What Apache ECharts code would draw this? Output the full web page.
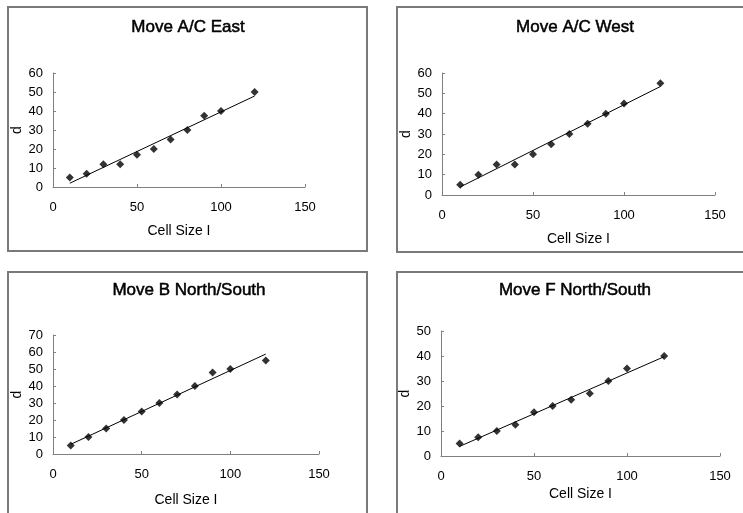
<!DOCTYPE html>
<html>
<head>
<meta charset="utf-8">
<script src="https://cdn.jsdelivr.net/npm/echarts@6/dist/echarts.min.js"></script>
<style>
html,body{margin:0;padding:0;background:#fff;}
#chart{width:743px;height:513px;}
</style>
</head>
<body>
<div id="chart"></div>
<script>
// ---- data ----
var titles = ['Move A/C East', 'Move A/C West', 'Move B North/South', 'Move F North/South'];
var cellSize = [10, 20, 30, 40, 50, 60, 70, 80, 90, 100, 120];
var dEast  = [5, 7, 12, 12, 17, 20, 25, 30, 37.5, 40, 50];
var dWest  = [5, 10, 15, 15, 20, 25, 30, 35, 40, 45, 55];
var dBNS   = [5, 10, 15, 20, 25, 30, 35, 40, 48, 50, 55];
var dFNS   = [5, 7.5, 10, 12.5, 17.5, 20, 22.5, 25, 30, 35, 40];
var yMax   = [60, 60, 70, 50];
var xTitle = 'Cell Size I';
var yTitle = 'd';

var seriesVals = [dEast, dWest, dBNS, dFNS];

// ---- layout (styles only) ----
var grids = [
  {left: 53,  top: 73,  width: 252, height: 114},
  {left: 442, top: 73,  width: 273, height: 122},
  {left: 53,  top: 335, width: 266, height: 119},
  {left: 441, top: 331, width: 279, height: 125}
];
var titlePos = [[188, 19], [575, 19], [189, 282], [575, 282]];
var xNameGap = [37, 37, 39, 31];
var yNameGap = [27, 28, 26, 24];
var frames = [[8, 7, 359, 244], [397, 7, 350, 245], [8, 272, 359, 250], [397, 272, 350, 250]];

var FONT = "'Liberation Sans', Arial, sans-serif";

function fit(xs, ys) {
  var n = xs.length, sx = 0, sy = 0, sxx = 0, sxy = 0;
  for (var i = 0; i < n; i++) { sx += xs[i]; sy += ys[i]; sxx += xs[i]*xs[i]; sxy += xs[i]*ys[i]; }
  var b = (n*sxy - sx*sy) / (n*sxx - sx*sx);
  var a = (sy - b*sx) / n;
  var x0 = Math.min.apply(null, xs), x1 = Math.max.apply(null, xs);
  return [[x0, a + b*x0], [x1, a + b*x1]];
}

var option = {
  backgroundColor: '#fff',
  animation: false,
  title: [], grid: [], xAxis: [], yAxis: [], series: [],
  graphic: []
};

for (var k = 0; k < 4; k++) {
  option.graphic.push({
    type: 'rect', z: -1,
    shape: {x: frames[k][0], y: frames[k][1], width: frames[k][2], height: frames[k][3]},
    style: {fill: '#fff', stroke: '#7a7a7a', lineWidth: 2}
  });
  option.title.push({
    text: titles[k], left: titlePos[k][0], top: titlePos[k][1], textAlign: 'center', padding: 0,
    textStyle: {fontFamily: FONT, fontSize: 17, fontWeight: 'normal', color: '#000',
                textBorderColor: '#000', textBorderWidth: 0.5}
  });
  option.grid.push(Object.assign({containLabel: false}, grids[k]));
  option.xAxis.push({
    type: 'value', gridIndex: k, min: 0, max: 150, interval: 50,
    name: xTitle, nameLocation: 'middle', nameGap: xNameGap[k],
    nameTextStyle: {fontFamily: FONT, fontSize: 14, color: '#000'},
    axisLine: {show: true, onZero: false, lineStyle: {color: '#808080', width: 1}},
    axisTick: {show: true, inside: true, length: 3, lineStyle: {color: '#808080'}},
    axisLabel: {fontFamily: FONT, fontSize: 13, color: '#000', margin: 14},
    splitLine: {show: false}
  });
  option.yAxis.push({
    type: 'value', gridIndex: k, min: 0, max: yMax[k], interval: 10,
    name: yTitle, nameLocation: 'middle', nameGap: yNameGap[k], nameRotate: 90,
    nameTextStyle: {fontFamily: FONT, fontSize: 14, color: '#000'},
    axisLine: {show: true, onZero: false, lineStyle: {color: '#808080', width: 1}},
    axisTick: {show: true, inside: true, length: 3, lineStyle: {color: '#808080'}},
    axisLabel: {fontFamily: FONT, fontSize: 13, color: '#000', margin: 10},
    splitLine: {show: false}
  });
  var pts = cellSize.map(function (x, i) { return [x, seriesVals[k][i]]; });
  option.series.push({
    type: 'scatter', xAxisIndex: k, yAxisIndex: k, data: pts,
    symbol: 'diamond', symbolSize: 8, itemStyle: {color: '#000'}, z: 3
  });
  option.series.push({
    type: 'line', xAxisIndex: k, yAxisIndex: k, data: fit(cellSize, seriesVals[k]),
    showSymbol: false, symbol: 'none', lineStyle: {color: '#000', width: 1}, z: 2
  });
}

var chart = echarts.init(document.getElementById('chart'), null, {renderer: 'canvas'});
chart.setOption(option);
</script>
</body>
</html>
